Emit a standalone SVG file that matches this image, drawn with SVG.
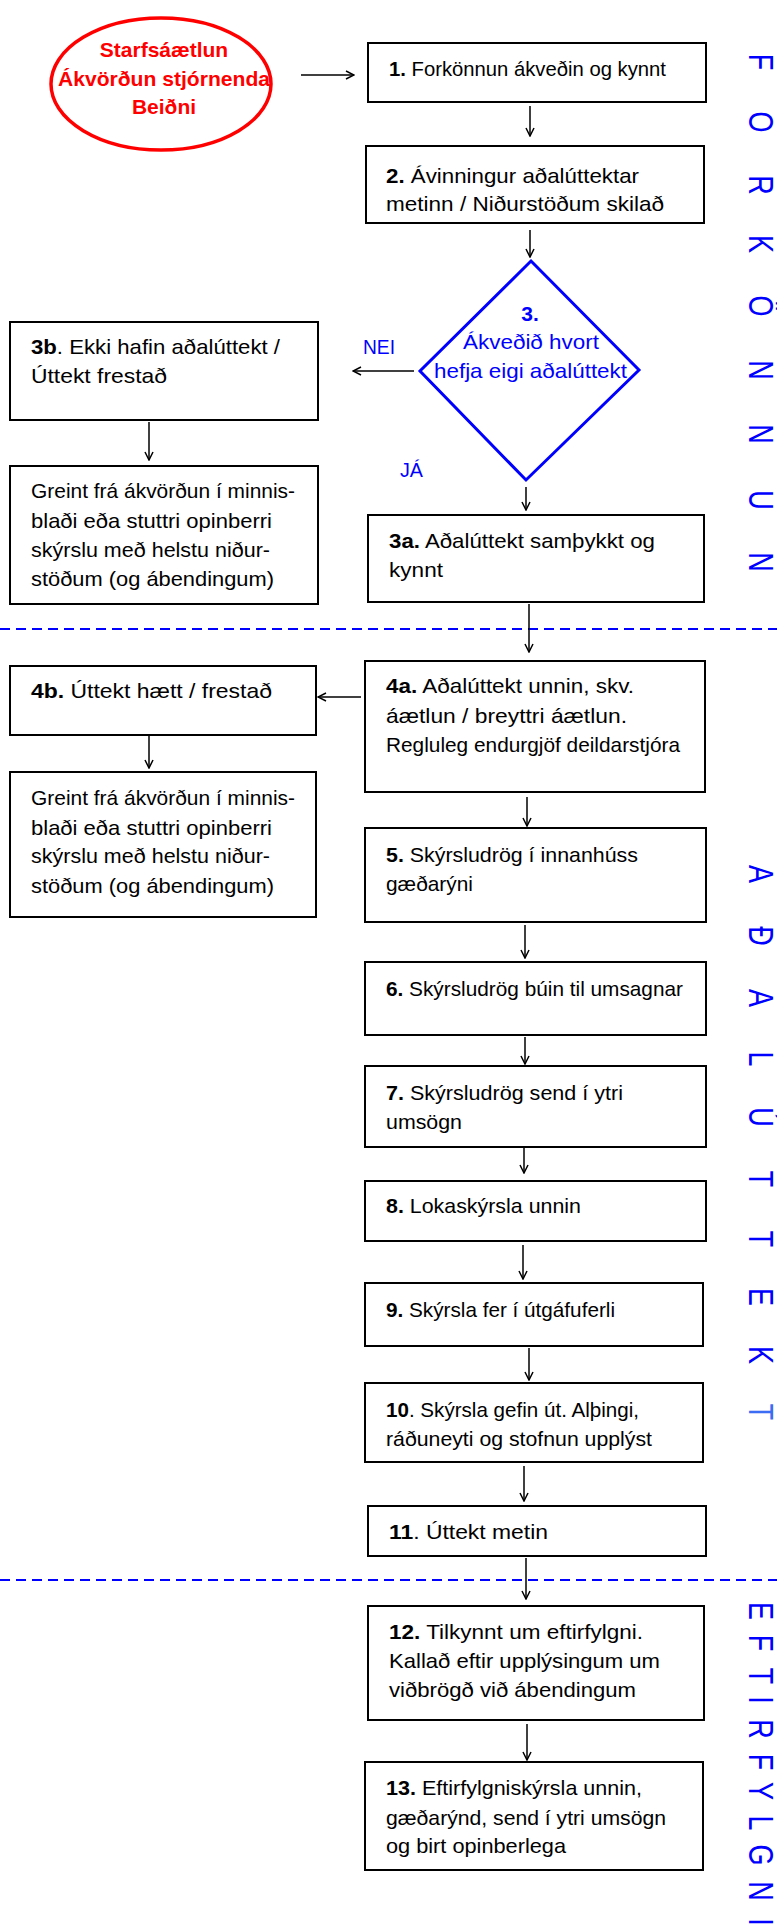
<svg xmlns="http://www.w3.org/2000/svg" width="777" height="1925" viewBox="0 0 777 1925">
<style>
.box{fill:#fff;stroke:#000;stroke-width:2}
.t{font-family:"Liberation Sans",Arial,sans-serif;font-size:21px;fill:#000}
.b{font-weight:bold}
.bl{font-family:"Liberation Sans",Arial,sans-serif;fill:#0000ff}
.red{font-family:"Liberation Sans",Arial,sans-serif;font-size:21px;font-weight:bold;fill:#ff0000}
.c{fill:none;stroke:#000;stroke-width:1.5;marker-end:url(#ah)}
.sep{stroke:#0000ff;stroke-width:2;stroke-dasharray:10 6}
.vt{font-family:"Liberation Sans",Arial,sans-serif;font-size:27px;fill:#0000ff}
</style>
<defs>
<marker id="ah" markerWidth="10" markerHeight="10" refX="9" refY="5" orient="auto" markerUnits="userSpaceOnUse">
<path d="M1,1 L9,5 L1,9" fill="none" stroke="#000" stroke-width="1.5"/>
</marker>
</defs>
<rect width="777" height="1925" fill="#fff"/>

<g id="separators">
<line class="sep" x1="0" y1="629" x2="777" y2="629"/>
<line class="sep" x1="0" y1="1580" x2="777" y2="1580"/>
</g>

<g id="phase-labels">
<g transform="translate(749,0) rotate(90) scale(1,1.29)">
<text class="vt" text-anchor="middle" y="0" x="62 122 185 244 306 370 434 500 562">FORKÖNNUN</text>
<text class="vt" text-anchor="middle" y="0" x="874 936 998 1059 1117 1179 1239 1297 1355">AÐALÚTTEK</text>
<text class="vt" text-anchor="middle" y="0" x="1412" fill="#3a6cf4" style="fill:#3a6cf4">T</text>
<text class="vt" text-anchor="middle" y="0" x="1611 1643 1676 1700 1729 1762 1791 1823 1855 1891 1922">EFTIRFYLGNI</text>
</g>
</g>

<g id="start">
<ellipse cx="161" cy="84" rx="110" ry="66" fill="#fff" stroke="#ff0000" stroke-width="3.5"/>
<text class="red" x="164" y="57" text-anchor="middle">Starfsáætlun</text>
<text class="red" x="164" y="86" text-anchor="middle" textLength="212" lengthAdjust="spacingAndGlyphs">Ákvörðun stjórnenda</text>
<text class="red" x="164" y="114" text-anchor="middle">Beiðni</text>
</g>

<g id="n1">
<rect class="box" x="368" y="43" width="338" height="59"/>
<text class="t" x="389" y="76" textLength="277" lengthAdjust="spacingAndGlyphs"><tspan class="b">1.</tspan> Forkönnun ákveðin og kynnt</text>
</g>

<g id="n2">
<rect class="box" x="366" y="146" width="338" height="77"/>
<text class="t" x="386" y="183" textLength="253" lengthAdjust="spacingAndGlyphs"><tspan class="b">2.</tspan> Ávinningur aðalúttektar</text>
<text class="t" x="386" y="211" textLength="278" lengthAdjust="spacingAndGlyphs">metinn / Niðurstöðum skilað</text>
</g>

<g id="n3">
<polygon points="531,261 639,370 526,480 420,371" fill="#fff" stroke="#0000ff" stroke-width="3"/>
<text class="bl b" x="530" y="321" text-anchor="middle" font-size="21">3.</text>
<text class="bl" x="531" y="349" text-anchor="middle" font-size="21" textLength="136" lengthAdjust="spacingAndGlyphs">Ákveðið hvort</text>
<text class="bl" x="530.5" y="378" text-anchor="middle" font-size="21" textLength="193" lengthAdjust="spacingAndGlyphs">hefja eigi aðalúttekt</text>
</g>

<g id="n3b">
<rect class="box" x="10" y="322" width="308" height="98"/>
<text class="t" x="31" y="354" textLength="249" lengthAdjust="spacingAndGlyphs"><tspan class="b">3b</tspan>. Ekki hafin aðalúttekt /</text>
<text class="t" x="31" y="383" textLength="136" lengthAdjust="spacingAndGlyphs">Úttekt frestað</text>
</g>

<g id="n3b-report">
<rect class="box" x="10" y="466" width="308" height="138"/>
<text class="t" x="31" y="498" textLength="264" lengthAdjust="spacingAndGlyphs">Greint frá ákvörðun í minnis-</text>
<text class="t" x="31" y="528" textLength="241" lengthAdjust="spacingAndGlyphs">blaði eða stuttri opinberri</text>
<text class="t" x="31" y="557" textLength="239" lengthAdjust="spacingAndGlyphs">skýrslu með helstu niður-</text>
<text class="t" x="31" y="586" textLength="243" lengthAdjust="spacingAndGlyphs">stöðum (og ábendingum)</text>
</g>

<g id="n3a">
<rect class="box" x="368" y="515" width="336" height="87"/>
<text class="t" x="389" y="548" textLength="266" lengthAdjust="spacingAndGlyphs"><tspan class="b">3a.</tspan> Aðalúttekt samþykkt og</text>
<text class="t" x="389" y="577" textLength="54" lengthAdjust="spacingAndGlyphs">kynnt</text>
</g>

<g id="n4a">
<rect class="box" x="365" y="661" width="340" height="131"/>
<text class="t" x="386" y="693" textLength="248" lengthAdjust="spacingAndGlyphs"><tspan class="b">4a.</tspan> Aðalúttekt unnin, skv.</text>
<text class="t" x="386" y="723" textLength="241" lengthAdjust="spacingAndGlyphs">áætlun / breyttri áætlun.</text>
<text class="t" x="386" y="752" textLength="294" lengthAdjust="spacingAndGlyphs">Regluleg endurgjöf deildarstjóra</text>
</g>

<g id="n4b">
<rect class="box" x="10" y="666" width="306" height="69"/>
<text class="t" x="31" y="698" textLength="241" lengthAdjust="spacingAndGlyphs"><tspan class="b">4b.</tspan> Úttekt hætt / frestað</text>
</g>

<g id="n4b-report">
<rect class="box" x="10" y="772" width="306" height="145"/>
<text class="t" x="31" y="805" textLength="264" lengthAdjust="spacingAndGlyphs">Greint frá ákvörðun í minnis-</text>
<text class="t" x="31" y="835" textLength="241" lengthAdjust="spacingAndGlyphs">blaði eða stuttri opinberri</text>
<text class="t" x="31" y="863" textLength="239" lengthAdjust="spacingAndGlyphs">skýrslu með helstu niður-</text>
<text class="t" x="31" y="893" textLength="243" lengthAdjust="spacingAndGlyphs">stöðum (og ábendingum)</text>
</g>

<g id="n5">
<rect class="box" x="365" y="828" width="341" height="94"/>
<text class="t" x="386" y="862" textLength="252" lengthAdjust="spacingAndGlyphs"><tspan class="b">5.</tspan> Skýrsludrög í innanhúss</text>
<text class="t" x="386" y="891" textLength="87" lengthAdjust="spacingAndGlyphs">gæðarýni</text>
</g>

<g id="n6">
<rect class="box" x="365" y="962" width="341" height="73"/>
<text class="t" x="386" y="996" textLength="297" lengthAdjust="spacingAndGlyphs"><tspan class="b">6.</tspan> Skýrsludrög búin til umsagnar</text>
</g>

<g id="n7">
<rect class="box" x="365" y="1066" width="341" height="81"/>
<text class="t" x="386" y="1100" textLength="237" lengthAdjust="spacingAndGlyphs"><tspan class="b">7.</tspan> Skýrsludrög send í ytri</text>
<text class="t" x="386" y="1129" textLength="76" lengthAdjust="spacingAndGlyphs">umsögn</text>
</g>

<g id="n8">
<rect class="box" x="365" y="1181" width="341" height="60"/>
<text class="t" x="386" y="1213" textLength="195" lengthAdjust="spacingAndGlyphs"><tspan class="b">8.</tspan> Lokaskýrsla unnin</text>
</g>

<g id="n9">
<rect class="box" x="365" y="1283" width="338" height="63"/>
<text class="t" x="386" y="1317" textLength="229" lengthAdjust="spacingAndGlyphs"><tspan class="b">9.</tspan> Skýrsla fer í útgáfuferli</text>
</g>

<g id="n10">
<rect class="box" x="365" y="1383" width="338" height="79"/>
<text class="t" x="386" y="1417" textLength="253" lengthAdjust="spacingAndGlyphs"><tspan class="b">10</tspan>. Skýrsla gefin út. Alþingi,</text>
<text class="t" x="386" y="1446" textLength="266" lengthAdjust="spacingAndGlyphs">ráðuneyti og stofnun upplýst</text>
</g>

<g id="n11">
<rect class="box" x="368" y="1506" width="338" height="50"/>
<text class="t" x="389" y="1539" textLength="159" lengthAdjust="spacingAndGlyphs"><tspan class="b">11</tspan>. Úttekt metin</text>
</g>

<g id="n12">
<rect class="box" x="368" y="1606" width="336" height="114"/>
<text class="t" x="389" y="1639" textLength="254" lengthAdjust="spacingAndGlyphs"><tspan class="b">12.</tspan> Tilkynnt um eftirfylgni.</text>
<text class="t" x="389" y="1668" textLength="271" lengthAdjust="spacingAndGlyphs">Kallað eftir upplýsingum um</text>
<text class="t" x="389" y="1697" textLength="247" lengthAdjust="spacingAndGlyphs">viðbrögð við ábendingum</text>
</g>

<g id="n13">
<rect class="box" x="365" y="1762" width="338" height="108"/>
<text class="t" x="386" y="1795" textLength="256" lengthAdjust="spacingAndGlyphs"><tspan class="b">13.</tspan> Eftirfylgniskýrsla unnin,</text>
<text class="t" x="386" y="1825" textLength="280" lengthAdjust="spacingAndGlyphs">gæðarýnd, send í ytri umsögn</text>
<text class="t" x="386" y="1853" textLength="180" lengthAdjust="spacingAndGlyphs">og birt opinberlega</text>
</g>

<g id="connectors">
<line class="c" x1="301" y1="75" x2="354" y2="75"/>
<line class="c" x1="530" y1="106" x2="530" y2="136"/>
<line class="c" x1="530" y1="230" x2="530" y2="257"/>
<line class="c" x1="414" y1="371" x2="353" y2="371"/>
<line class="c" x1="149" y1="422" x2="149" y2="460"/>
<line class="c" x1="526" y1="487" x2="526" y2="510"/>
<line class="c" x1="529" y1="604" x2="529" y2="652"/>
<line class="c" x1="361" y1="697" x2="318" y2="697"/>
<line class="c" x1="149" y1="736" x2="149" y2="768"/>
<line class="c" x1="527" y1="797" x2="527" y2="826"/>
<line class="c" x1="525" y1="925" x2="525" y2="958"/>
<line class="c" x1="525" y1="1037" x2="525" y2="1064"/>
<line class="c" x1="524" y1="1148" x2="524" y2="1173"/>
<line class="c" x1="523" y1="1245" x2="523" y2="1279"/>
<line class="c" x1="529" y1="1348" x2="529" y2="1380"/>
<line class="c" x1="524" y1="1466" x2="524" y2="1501"/>
<line class="c" x1="526" y1="1558" x2="526" y2="1599"/>
<line class="c" x1="527" y1="1724" x2="527" y2="1760"/>
</g>

<g id="branch-labels">
<text class="bl" x="363" y="354" font-size="20" textLength="32" lengthAdjust="spacingAndGlyphs">NEI</text>
<text class="bl" x="400" y="477" font-size="20" textLength="23" lengthAdjust="spacingAndGlyphs">JÁ</text>
</g>
</svg>
